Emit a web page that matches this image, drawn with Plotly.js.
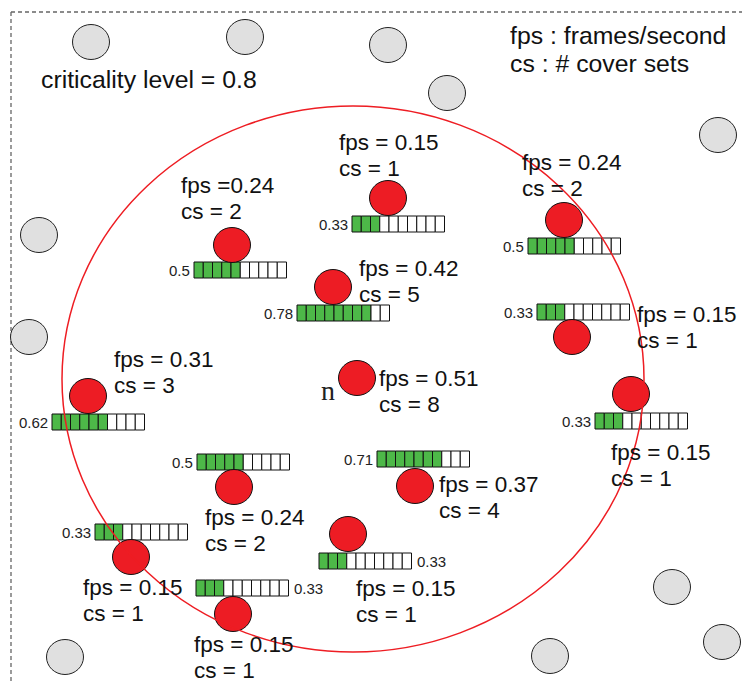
<!DOCTYPE html>
<html>
<head>
<meta charset="utf-8">
<script src="https://cdn.plot.ly/plotly-3.0.1.min.js"></script>
<style>html,body{margin:0;padding:0;background:#fff;}#chart{width:742px;height:682px;}</style>
</head>
<body>
<div id="chart"></div>
<script>
// ---- data ----
const nodeIds   = ['A','B','C','D','E','F','G','H','I','J','K','L','M'];
const nodeX     = [232, 388, 333, 564, 572,  88, 357, 234, 415, 348, 131, 233, 631];
const nodeY     = [245, 198, 287, 220, 337, 396, 378, 487, 486, 534, 557, 614, 394];
const fpsVals   = [0.24,0.15,0.42,0.24,0.15,0.31,0.51,0.24,0.37,0.15,0.15,0.15,0.15];
const fpsSep    = [' =',' = ',' = ',' = ',' = ',' = ',' = ',' = ',' = ',' = ',' = ',' = ',' = '];
const csVals    = [2, 1, 5, 2, 1, 3, 8, 2, 4, 1, 1, 1, 1];
const ratioVals = [0.5,0.33,0.78,0.5,0.33,0.62,null,0.5,0.71,0.33,0.33,0.33,0.33];
const ratioSide = ['l','l','l','l','l','l',null,'l','l','r','l','r','l'];
const barLeft   = [194, 352, 297, 528, 537,  52, null, 197, 377, 319,  95, 196, 595];
const barTop    = [262, 216, 305, 238, 304, 414, null, 454, 451, 553, 524, 580, 413];
const textX     = [182, 340, 360, 523, 638, 115, 380, 206, 440, 357,  84, 195, 612];
const textY     = [185, 142, 268, 162, 314, 359, 378, 517, 484, 588, 587, 644, 452];
const grayX     = [91, 245, 388, 447, 718, 39, 29, 65, 672, 550, 722];
const grayY     = [42,  37,  45,  93, 135, 235, 337, 657, 587, 656, 642];
const rangeCenter = [353, 379];
const rangeRadii  = [291, 273];
const cellCount = 10;

// ---- drawing ----
const shapes = [];
const ann = [];
const RX = 18.5, RY = 17.5;
const CW = 9.25, CH = 16;
const PADX = 3;
const SANS = 'Liberation Sans, Arial, sans-serif';

// dashed frame
shapes.push({type:'line', xref:'x', yref:'y', x0:11, x1:742, y0:12, y1:12, line:{color:'#666', width:1.3, dash:'4px,3px'}});
shapes.push({type:'line', xref:'x', yref:'y', x0:11, x1:11, y0:12, y1:682, line:{color:'#666', width:1.3, dash:'4px,3px'}});

// gray nodes
grayX.forEach((x,i)=>{
  shapes.push({type:'circle', xref:'x', yref:'y', x0:x-RX, x1:x+RX, y0:grayY[i]-RY, y1:grayY[i]+RY,
    fillcolor:'#E0E0E0', line:{color:'#222', width:1}});
});

// bars
nodeIds.forEach((id,i)=>{
  if (ratioVals[i]===null) return;
  const g = Math.round(ratioVals[i]*cellCount);
  for (let c=0;c<cellCount;c++){
    shapes.push({type:'rect', xref:'x', yref:'y', x0:barLeft[i]+c*CW, x1:barLeft[i]+(c+1)*CW,
      y0:barTop[i], y1:barTop[i]+CH, fillcolor: c<g ? '#4DB848' : '#FFFFFF', line:{color:'#111', width:1}});
  }
  const left = ratioSide[i]==='l';
  ann.push({x: left ? barLeft[i]-2 : barLeft[i]+cellCount*CW+3, y: barTop[i]+CH/2, xref:'x', yref:'y',
    text: String(ratioVals[i]), showarrow:false, xanchor: left?'right':'left', yanchor:'middle',
    font:{family:SANS, size:15, color:'#222'}});
});

// red nodes
nodeIds.forEach((id,i)=>{
  shapes.push({type:'circle', xref:'x', yref:'y', x0:nodeX[i]-RX, x1:nodeX[i]+RX, y0:nodeY[i]-RY, y1:nodeY[i]+RY,
    fillcolor:'#ED1C24', line:{color:'#111', width:1}});
  ann.push({x:textX[i]-PADX, y:textY[i], xref:'x', yref:'y', text:'fps'+fpsSep[i]+fpsVals[i], showarrow:false,
    xanchor:'left', yanchor:'middle', font:{family:SANS, size:22.5, color:'#111'}});
  ann.push({x:textX[i]-PADX, y:textY[i]+26, xref:'x', yref:'y', text:'cs = '+csVals[i], showarrow:false,
    xanchor:'left', yanchor:'middle', font:{family:SANS, size:22.5, color:'#111'}});
});

// node n label
ann.push({x:nodeX[6]-20, y:nodeY[6]+12, xref:'x', yref:'y', text:'n', showarrow:false, xanchor:'right', yanchor:'middle',
  font:{family:'Liberation Serif, DejaVu Serif, serif', size:28, color:'#222'}});

// range ellipse
shapes.push({type:'circle', xref:'x', yref:'y', layer:'above',
  x0:rangeCenter[0]-rangeRadii[0], x1:rangeCenter[0]+rangeRadii[0],
  y0:rangeCenter[1]-rangeRadii[1], y1:rangeCenter[1]+rangeRadii[1],
  fillcolor:'rgba(0,0,0,0)', line:{color:'#EE1D23', width:1.5}});

// headings
ann.push({x:42-PADX, y:79, xref:'x', yref:'y', text:'criticality level = 0.8', showarrow:false, xanchor:'left', yanchor:'middle',
  font:{family:SANS, size:24.8, color:'#111'}});
ann.push({x:511-PADX, y:35, xref:'x', yref:'y', text:'fps : frames/second', showarrow:false, xanchor:'left', yanchor:'middle',
  font:{family:SANS, size:24.8, color:'#111'}});
ann.push({x:511-PADX, y:63, xref:'x', yref:'y', text:'cs : # cover sets', showarrow:false, xanchor:'left', yanchor:'middle',
  font:{family:SANS, size:24.8, color:'#111'}});

const layout = {
  width:742, height:682, margin:{l:0,r:0,t:0,b:0,pad:0},
  paper_bgcolor:'#fff', plot_bgcolor:'#fff', showlegend:false,
  xaxis:{range:[0,742], visible:false, fixedrange:true},
  yaxis:{range:[682,0], visible:false, fixedrange:true},
  shapes:shapes, annotations:ann
};
Plotly.newPlot('chart', [{x:[], y:[], type:'scatter', mode:'markers', hoverinfo:'skip'}], layout, {staticPlot:true, displayModeBar:false});
</script>
</body>
</html>
